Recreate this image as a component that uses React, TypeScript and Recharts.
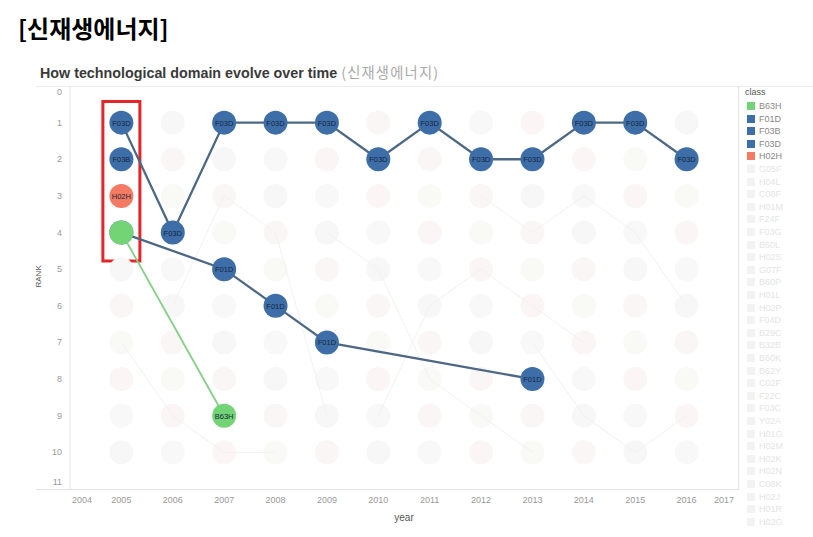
import React from "react";
import { ScatterChart, Scatter, XAxis, YAxis, ReferenceArea } from "recharts";

const years = [2004, 2005, 2006, 2007, 2008, 2009, 2010, 2011, 2012, 2013, 2014, 2015, 2016, 2017];
const rankTicks = [0, 1, 2, 3, 4, 5, 6, 7, 8, 9, 10, 11];
const nodeYears = [2005, 2006, 2007, 2008, 2009, 2010, 2011, 2012, 2013, 2014, 2015, 2016];
const nodeRanks = [1, 2, 3, 4, 5, 6, 7, 8, 9, 10];
const fadeTints = ["#faf6f6", "#f8f8f8", "#f9f9f5", "#f7f7f7", "#fbf5f5"];

const f03d = [
  { year: 2005, rank: 1 }, { year: 2006, rank: 4 }, { year: 2007, rank: 1 }, { year: 2008, rank: 1 },
  { year: 2009, rank: 1 }, { year: 2010, rank: 2 }, { year: 2011, rank: 1 }, { year: 2012, rank: 2 },
  { year: 2013, rank: 2 }, { year: 2014, rank: 1 }, { year: 2015, rank: 1 }, { year: 2016, rank: 2 },
];
const f01d = [
  { year: 2005, rank: 4 }, { year: 2007, rank: 5 }, { year: 2008, rank: 6 },
  { year: 2009, rank: 7 }, { year: 2013, rank: 8 },
];
// first B63H node in 2005 carries no label in the original
const b63h = [{ year: 2005, rank: 4, label: "" }, { year: 2007, rank: 9, label: "B63H" }];
const f03b = [{ year: 2005, rank: 2 }];
const h02h = [{ year: 2005, rank: 3 }];

// faint background trails
const fadedTrails = [
  [{ year: 2005, rank: 7 }, { year: 2006, rank: 9 }, { year: 2007, rank: 10 }, { year: 2008, rank: 10 }],
  [{ year: 2006, rank: 6 }, { year: 2007, rank: 3 }, { year: 2008, rank: 4 }, { year: 2009, rank: 9 }],
  [{ year: 2009, rank: 4 }, { year: 2010, rank: 5 }, { year: 2011, rank: 8 }, { year: 2012, rank: 9 }, { year: 2013, rank: 10 }],
  [{ year: 2010, rank: 9 }, { year: 2011, rank: 6 }, { year: 2012, rank: 5 }, { year: 2013, rank: 6 }, { year: 2014, rank: 7 }],
  [{ year: 2012, rank: 3 }, { year: 2013, rank: 4 }, { year: 2014, rank: 3 }, { year: 2015, rank: 4 }, { year: 2016, rank: 6 }],
  [{ year: 2013, rank: 7 }, { year: 2014, rank: 9 }, { year: 2015, rank: 10 }, { year: 2016, rank: 9 }],
];

const legendMain = [
  { name: "B63H", color: "#72d474" },
  { name: "F01D", color: "#3e6ea8" },
  { name: "F03B", color: "#3e6ea8" },
  { name: "F03D", color: "#3e6ea8" },
  { name: "H02H", color: "#f47a64" },
];
const legendFaded = [
  "G05F", "H04L", "C08F", "H01M", "F24F", "F03G", "B60L", "H02S", "G07F", "B60P", "H01L",
  "H02P", "F04D", "B29C", "B32B", "B60K", "B62Y", "C02F", "F22C", "F03C", "Y02A", "H01G",
  "H02M", "H02K", "H02N", "C08K", "H02J", "H01R", "H02G",
];

const BLUE = "#3e6ea8";
const LINE = "#4d6884";

const fadedGrid = nodeYears.flatMap((y, i) =>
  nodeRanks.map((r, j) => ({ year: y, rank: r, tint: fadeTints[(i * 3 + j * 2) % fadeTints.length] }))
);

const Node = (color: string, label: string | null) => (props: any) => {
  const { cx, cy, payload } = props;
  if (cx == null || cy == null) return <g />;
  const txt = payload && payload.label !== undefined ? payload.label : label;
  return (
    <g>
      <circle cx={cx} cy={cy} r={12} fill={color} />
      {txt && (
        <text x={cx} y={cy + 3} textAnchor="middle" fontSize={7.5} fill="#152640" fontFamily="Liberation Sans, Arial">
          {txt}
        </text>
      )}
    </g>
  );
};

const FadedNode = (props: any) => {
  const { cx, cy, payload } = props;
  return <circle cx={cx} cy={cy} r={12} fill={payload.tint} />;
};

const XTick = (props: any) => {
  const { x, y, payload } = props;
  const v = payload.value;
  const dx = v === 2004 ? 12 : v === 2017 ? -14 : 0;
  return (
    <text x={x + dx} y={y + 6} textAnchor="middle" fontSize={9} fill="#999" fontFamily="Liberation Sans, Arial">
      {v}
    </text>
  );
};

const YTick = (props: any) => {
  const { x, y, payload } = props;
  const v = payload.value;
  const dy = v === 0 ? 6 : v === 11 ? -7 : 0;
  return (
    <text x={x} y={y + dy + 3} textAnchor="end" fontSize={9} fill="#999" fontFamily="Liberation Sans, Arial">
      {v}
    </text>
  );
};

export default function App() {
  return (
    <div style={{ position: "fixed", left: 0, top: 0, width: 813, height: 537, background: "#fff", fontFamily: "Liberation Sans, Arial" }}>
      <div style={{ position: "absolute", left: 18, top: 10, fontSize: 24, fontWeight: 700, color: "#000", fontFamily: "Noto Sans CJK KR" }}>
        [신재생에너지]
      </div>
      <div style={{ position: "absolute", left: 40, top: 61, fontSize: 14.3, fontWeight: 700, color: "#3a3a3a", whiteSpace: "nowrap" }}>
        How technological domain evolve over time{" "}
        <span style={{ fontWeight: 400, color: "#aaa", fontFamily: "Noto Sans CJK KR", letterSpacing: 1.2 }}>(신재생에너지)</span>
      </div>
      <div style={{ position: "absolute", left: 36, top: 86, width: 777, height: 1, background: "#ececec" }} />
      <div style={{ position: "absolute", left: 36, top: 489, width: 702, height: 1, background: "#e2e2e2" }} />
      <div style={{ position: "absolute", left: 738, top: 86, width: 1, height: 404, background: "#e2e2e2" }} />

      <ScatterChart width={813} height={537} margin={{ top: 86, right: 75, left: 0, bottom: 0 }} style={{ position: "absolute", left: 0, top: 0 }}>
        <XAxis
          type="number"
          dataKey="year"
          domain={[2004, 2017]}
          ticks={years}
          interval={0}
          height={48}
          axisLine={false}
          tickLine={false}
          tick={<XTick />}
          label={{ value: "year", position: "insideBottom", offset: 16, fontSize: 10, fill: "#555" }}
        />
        <YAxis
          type="number"
          dataKey="rank"
          domain={[0, 11]}
          ticks={rankTicks}
          interval={0}
          reversed
          width={70}
          axisLine={{ stroke: "#e6e6e6" }}
          tickLine={false}
          tick={<YTick />}
          label={{ value: "RANK", angle: -90, position: "insideLeft", offset: 38, fontSize: 8, fill: "#555" }}
        />
        <Scatter data={fadedGrid} shape={FadedNode} isAnimationActive={false} />
        {fadedTrails.map((t, i) => (
          <Scatter key={i} data={t} line={{ stroke: "#f2f2f2", strokeWidth: 1 }} lineType="joint" shape={() => <g />} isAnimationActive={false} />
        ))}
        <ReferenceArea x1={2004.64} x2={2005.36} y1={0.42} y2={4.78} fill="none" stroke="#e3262a" strokeWidth={3} fillOpacity={0} />
        <Scatter data={f01d} line={{ stroke: LINE, strokeWidth: 2.3 }} lineType="joint" shape={Node(BLUE, "F01D")} isAnimationActive={false} />
        <Scatter data={f03d} line={{ stroke: LINE, strokeWidth: 2.3 }} lineType="joint" shape={Node(BLUE, "F03D")} isAnimationActive={false} />
        <Scatter data={f03b} shape={Node(BLUE, "F03B")} isAnimationActive={false} />
        <Scatter data={h02h} shape={Node("#f47a64", "H02H")} isAnimationActive={false} />
        <Scatter data={b63h} line={{ stroke: "#86cf86", strokeWidth: 1.8 }} lineType="joint" shape={Node("#72d474", "B63H")} isAnimationActive={false} />
      </ScatterChart>

      <div style={{ position: "absolute", left: 745, top: 87, fontSize: 9, color: "#555" }}>class</div>
      {legendMain.map((e, i) => (
        <div key={e.name} style={{ position: "absolute", left: 747, top: 101 + i * 12.6, display: "flex", alignItems: "center", fontSize: 9, color: "#888" }}>
          <span style={{ width: 8, height: 8, background: e.color, marginRight: 4 }} />
          {e.name}
        </div>
      ))}
      {legendFaded.map((n, i) => (
        <div key={n + i} style={{ position: "absolute", left: 747, top: 101 + (i + 5) * 12.6, display: "flex", alignItems: "center", fontSize: 9, color: "#e4e4e4" }}>
          <span style={{ width: 8, height: 8, background: "#f2f2f2", marginRight: 4 }} />
          {n}
        </div>
      ))}
    </div>
  );
}
